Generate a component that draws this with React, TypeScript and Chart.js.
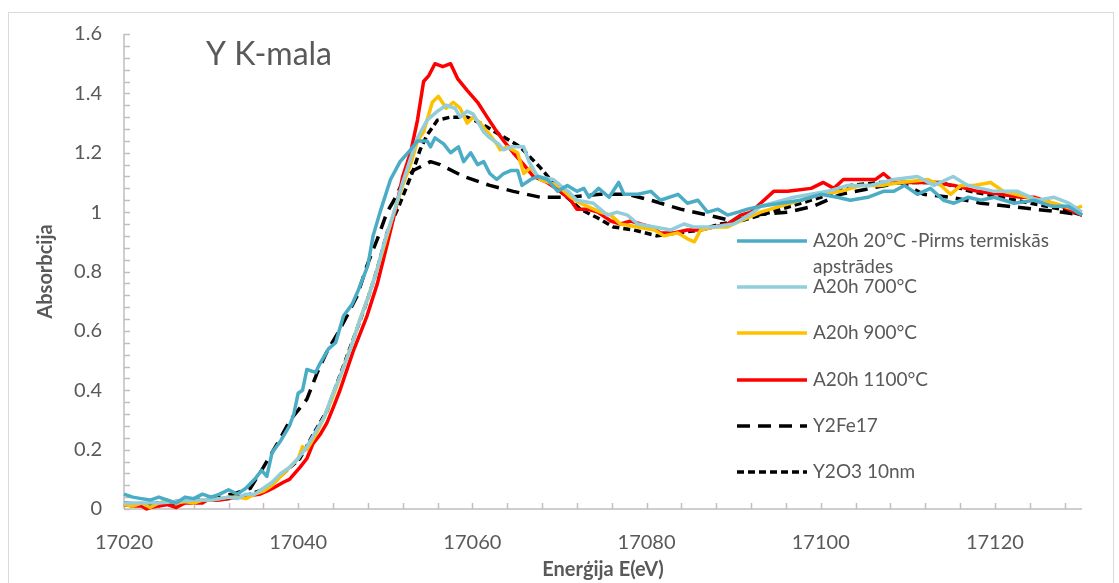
import React, { useEffect, useRef } from "react";
import { Chart, registerables } from "chart.js";

Chart.register(...registerables);

const FONT = "Lato, 'Open Sans', sans-serif";
const TEXT_COLOR = "#595959";

const chartTitle = "Y K-mala";
const xTitle = "Enerģija E(eV)";
const yTitle = "Absorbcija";

const xMin = 17020;
const xMax = 17130;
const xTickValues = [17020, 17040, 17060, 17080, 17100, 17120];
const xMinorStep = 4;
const yMin = 0;
const yMax = 1.6;
const yTickValues = [0, 0.2, 0.4, 0.6, 0.8, 1, 1.2, 1.4, 1.6];
const yTickLabels = ["0", "0.2", "0.4", "0.6", "0.8", "1", "1.2", "1.4", "1.6"];
const yMinorStep = 0.04;

const seriesLabels = [
  ["A20h 20°C -Pirms termiskās", "apstrādes"],
  ["A20h 700°C"],
  ["A20h 900°C"],
  ["A20h 1100°C"],
  ["Y2Fe17"],
  ["Y2O3 10nm"],
];
const seriesColors = ["#4BACC6", "#92CDDC", "#FFC000", "#FF0000", "#000000", "#000000"];
const seriesDashes: number[][] = [[], [], [], [], [13, 8], [7, 4]];

// A20h 20°C
const e20 = [17020, 17021, 17022, 17023, 17024, 17025, 17026, 17027, 17028, 17029, 17030, 17031, 17032, 17033, 17034, 17035, 17035.8, 17036.4, 17037, 17038, 17039, 17039.5, 17040, 17040.5, 17041, 17042, 17042.5, 17043.5, 17044.3, 17045.2, 17046.2, 17046.8, 17048, 17048.6, 17049.4, 17050.6, 17051.7, 17052.9, 17053.7, 17054.8, 17055.2, 17055.7, 17056.7, 17057.5, 17058.4, 17059, 17059.8, 17060.6, 17061.3, 17062, 17062.8, 17063.6, 17064.4, 17065.2, 17065.7, 17066.7, 17067.5, 17068.6, 17069.8, 17070.9, 17072, 17072.8, 17073.4, 17074.5, 17075.7, 17076.8, 17077.4, 17079, 17080.5, 17081.6, 17083.6, 17084.7, 17085.9, 17087, 17088.2, 17089.3, 17090.5, 17091.6, 17093.1, 17095.4, 17097.7, 17100, 17101.9, 17103.4, 17105.4, 17107.2, 17108.4, 17109.6, 17111.1, 17112.6, 17114.1, 17115.3, 17116.9, 17118.4, 17119.9, 17122.2, 17124.5, 17126.5, 17128.4, 17130];
const a20 = [0.05, 0.04, 0.035, 0.03, 0.04, 0.03, 0.02, 0.04, 0.035, 0.05, 0.04, 0.05, 0.065, 0.05, 0.07, 0.1, 0.13, 0.11, 0.19, 0.23, 0.28, 0.32, 0.39, 0.4, 0.47, 0.46, 0.49, 0.54, 0.56, 0.65, 0.69, 0.73, 0.82, 0.92, 1.0, 1.11, 1.17, 1.21, 1.24, 1.24, 1.22, 1.25, 1.23, 1.2, 1.22, 1.17, 1.2, 1.16, 1.17, 1.13, 1.11, 1.13, 1.14, 1.14, 1.09, 1.11, 1.12, 1.11, 1.07, 1.09, 1.07, 1.08, 1.05, 1.08, 1.05, 1.1, 1.06, 1.06, 1.07, 1.04, 1.06, 1.03, 1.04, 1.0, 1.01, 0.99, 1.0, 1.01, 1.02, 1.03, 1.04, 1.06, 1.05, 1.04, 1.05, 1.07, 1.07, 1.09, 1.06, 1.08, 1.04, 1.03, 1.05, 1.04, 1.05, 1.03, 1.04, 1.02, 1.02, 0.99];

// A20h 700°C
const e700 = [17020, 17022, 17024, 17026, 17028, 17030, 17032, 17033, 17034, 17035, 17036, 17037, 17038, 17039, 17040, 17041, 17042, 17043, 17044, 17045, 17046, 17047, 17048, 17049, 17050, 17051, 17052, 17053, 17053.7, 17054.8, 17056, 17057, 17058, 17058.6, 17059.4, 17060.1, 17061.3, 17062, 17063, 17063.6, 17064.5, 17065.9, 17066.5, 17067.5, 17069.3, 17070.1, 17071, 17072, 17073.9, 17075.5, 17076.6, 17077.8, 17079, 17080.9, 17082.8, 17084.3, 17085.4, 17087.7, 17090, 17092.3, 17093.1, 17096.9, 17100.8, 17103.1, 17105.7, 17108.4, 17111.1, 17113, 17115.2, 17116.9, 17119.9, 17122.6, 17124.9, 17126.8, 17128.5, 17130];
const a700 = [0.02, 0.02, 0.02, 0.025, 0.03, 0.03, 0.04, 0.035, 0.05, 0.05, 0.07, 0.09, 0.12, 0.14, 0.17, 0.21, 0.26, 0.31, 0.39, 0.46, 0.54, 0.63, 0.71, 0.8, 0.91, 1.0, 1.1, 1.19, 1.25, 1.31, 1.34, 1.36, 1.35, 1.32, 1.34, 1.33, 1.27, 1.25, 1.23, 1.21, 1.22, 1.22, 1.17, 1.12, 1.11, 1.09, 1.07, 1.04, 1.03, 0.99, 1.0, 0.99, 0.96, 0.95, 0.94, 0.96, 0.95, 0.95, 0.96, 1.0, 1.02, 1.05, 1.07, 1.09, 1.09, 1.11, 1.12, 1.09, 1.12, 1.09, 1.07, 1.07, 1.04, 1.05, 1.03, 1.0];

// A20h 900°C
const e900 = [17020, 17021, 17022, 17023, 17024, 17025, 17026, 17027, 17028, 17029, 17030, 17031, 17032, 17033, 17034, 17035, 17036, 17037, 17038, 17039, 17040, 17040.5, 17041, 17042, 17043, 17044, 17045, 17046, 17047, 17048, 17049, 17050, 17051, 17052, 17053, 17053.7, 17054.4, 17055.4, 17056.1, 17057, 17057.8, 17058.6, 17059.4, 17060.1, 17060.9, 17062, 17062.8, 17063.2, 17064, 17065.2, 17065.9, 17066.7, 17067.8, 17069.8, 17071.3, 17072.4, 17074.7, 17075.9, 17077, 17079, 17080.9, 17082, 17083.6, 17084.7, 17085.5, 17086.2, 17087.7, 17089.3, 17090.8, 17093.1, 17095.4, 17097.7, 17100, 17102.3, 17104.6, 17106.9, 17109.2, 17112.3, 17113.8, 17114.9, 17116.1, 17117.6, 17119.5, 17121, 17123.8, 17126.8, 17129, 17130];
const a900 = [0.015, 0.01, 0.02, 0.005, 0.02, 0.03, 0.02, 0.025, 0.02, 0.03, 0.03, 0.035, 0.04, 0.04, 0.035, 0.05, 0.06, 0.08, 0.11, 0.14, 0.17, 0.21, 0.2, 0.25, 0.31, 0.38, 0.46, 0.54, 0.63, 0.71, 0.8, 0.9, 1.0, 1.09, 1.17, 1.24, 1.27, 1.37, 1.39, 1.35, 1.37, 1.35, 1.3, 1.32, 1.3, 1.26, 1.23, 1.21, 1.22, 1.2, 1.13, 1.15, 1.11, 1.09, 1.05, 1.03, 1.0, 0.99, 0.96, 0.95, 0.94, 0.92, 0.93, 0.91, 0.9, 0.94, 0.95, 0.95, 0.97, 1.0, 1.02, 1.04, 1.06, 1.07, 1.09, 1.09, 1.1, 1.11, 1.09, 1.06, 1.09, 1.09, 1.1, 1.07, 1.05, 1.03, 1.01, 1.02];

// A20h 1100°C
const e1100 = [17020, 17021, 17022, 17022.6, 17023, 17024, 17025, 17026, 17027, 17028, 17029, 17029.5, 17031, 17033, 17034, 17035.6, 17036.4, 17037.1, 17038.3, 17039, 17040.2, 17041, 17041.7, 17042.5, 17043.3, 17044, 17044.8, 17046.3, 17047.9, 17049.1, 17050.2, 17051.2, 17052, 17052.9, 17053.7, 17054.4, 17055, 17055.7, 17056.6, 17057.5, 17058.3, 17059.4, 17060.6, 17061.7, 17062.6, 17063.6, 17064.7, 17065.9, 17067, 17068.6, 17070.1, 17071.3, 17072, 17073.2, 17074.4, 17075.9, 17077, 17078.2, 17079.3, 17080.5, 17081.6, 17083.1, 17084.7, 17086.2, 17087.7, 17089.3, 17090.8, 17092, 17093.1, 17094.6, 17096.2, 17098.9, 17100.3, 17101.5, 17102.6, 17104.6, 17106.3, 17107.2, 17108.4, 17110.3, 17113, 17115.3, 17118, 17120.7, 17123, 17124.5, 17127.6, 17130];
const a1100 = [0.015, 0.01, 0.01, 0.0, 0.005, 0.01, 0.015, 0.005, 0.02, 0.02, 0.02, 0.03, 0.03, 0.04, 0.045, 0.05, 0.06, 0.07, 0.09, 0.1, 0.14, 0.17, 0.22, 0.25, 0.29, 0.34, 0.4, 0.53, 0.65, 0.76, 0.89, 1.01, 1.12, 1.2, 1.31, 1.44, 1.46, 1.5, 1.49, 1.5, 1.45, 1.41, 1.37, 1.32, 1.28, 1.24, 1.2, 1.16, 1.12, 1.1, 1.07, 1.04, 1.01, 1.01, 1.0, 0.97, 0.96, 0.97, 0.96, 0.95, 0.93, 0.93, 0.94, 0.94, 0.95, 0.96, 0.99, 1.0, 1.03, 1.07, 1.07, 1.08, 1.1, 1.08, 1.11, 1.11, 1.11, 1.13, 1.1, 1.1, 1.1, 1.09, 1.07, 1.06, 1.05, 1.05, 1.02, 0.99];

// Y2Fe17
const eFe = [17020, 17022, 17024, 17026, 17028, 17030, 17032.5, 17034.5, 17036, 17037.6, 17039.1, 17041, 17042.2, 17043.3, 17044.5, 17045.6, 17046.8, 17047.9, 17049.1, 17050.2, 17051, 17052, 17053.2, 17055.2, 17056.3, 17059, 17062, 17064.7, 17067.8, 17071, 17074.7, 17077.8, 17080.5, 17083.9, 17087, 17090, 17092.3, 17096.2, 17099.2, 17102.3, 17105.7, 17109.2, 17111.8, 17114.9, 17118.4, 17121.5, 17124.5, 17127.6, 17130];
const aFe = [0.02, 0.015, 0.02, 0.025, 0.03, 0.04, 0.05, 0.07, 0.14, 0.22, 0.3, 0.37, 0.46, 0.53, 0.59, 0.65, 0.72, 0.82, 0.91, 1.0, 1.04, 1.1, 1.14, 1.17, 1.16, 1.12, 1.09, 1.07, 1.05, 1.05, 1.06, 1.06, 1.04, 1.01, 0.99, 0.97, 0.99, 1.0, 1.02, 1.06, 1.08, 1.1, 1.06, 1.05, 1.03, 1.02, 1.01, 1.0, 0.99];

// Y2O3 10nm
const eOx = [17020, 17022, 17024, 17026, 17028, 17030, 17032, 17034, 17036.4, 17038.3, 17040.2, 17041.7, 17043.3, 17044.8, 17046.3, 17047.9, 17049.1, 17050.2, 17051.7, 17053.2, 17054, 17054.8, 17056, 17057.5, 17059.4, 17060.9, 17063.2, 17065.5, 17067.8, 17070.1, 17072.4, 17074.4, 17076.2, 17078.5, 17081.2, 17083.6, 17086.2, 17088.5, 17090.8, 17093.1, 17096.6, 17100, 17103.4, 17106.9, 17110.3, 17113.8, 17117.2, 17120.7, 17124.1, 17127.6, 17130];
const aOx = [0.015, 0.015, 0.02, 0.02, 0.025, 0.03, 0.035, 0.045, 0.07, 0.12, 0.17, 0.25, 0.33, 0.45, 0.57, 0.7, 0.81, 0.93, 1.03, 1.14, 1.21, 1.26, 1.31, 1.32, 1.32, 1.3, 1.26, 1.22, 1.15, 1.07, 1.01, 0.98, 0.95, 0.94, 0.92, 0.93, 0.94, 0.96, 0.97, 0.99, 1.02, 1.05, 1.09, 1.1, 1.1, 1.1, 1.07, 1.05, 1.03, 1.01, 0.99];

const seriesE = [e20, e700, e900, e1100, eFe, eOx];
const seriesA = [a20, a700, a900, a1100, aFe, aOx];

// layout constants (pixels)
const W = 1119;
const H = 583;
const PLOT_LEFT = 124;
const PLOT_RIGHT = 1082;
const PLOT_TOP = 29;
const PLOT_BOTTOM = 509;

const decorPlugin = {
  id: "decor",
  beforeDraw(chart: any) {
    const ctx = chart.ctx;
    ctx.save();
    ctx.fillStyle = "#ffffff";
    ctx.fillRect(0, 0, chart.width, chart.height);
    ctx.strokeStyle = "#d9d9d9";
    ctx.lineWidth = 1;
    ctx.strokeRect(8.5, 12.5, 1105, 620);
    ctx.restore();
  },
  beforeDatasetsDraw(chart: any) {
    const { ctx, chartArea, scales } = chart;
    const { left, right, top, bottom } = chartArea;
    const xs = scales.x;
    const ys = scales.y;
    ctx.save();
    ctx.strokeStyle = "#bfbfbf";
    ctx.lineWidth = 1.5;
    ctx.beginPath();
    ctx.moveTo(left, top);
    ctx.lineTo(left, bottom);
    ctx.moveTo(left, bottom);
    ctx.lineTo(right, bottom);
    const nY = Math.round((yMax - yMin) / yMinorStep);
    for (let i = 0; i <= nY; i++) {
      const py = Math.round(ys.getPixelForValue(yMin + i * yMinorStep)) + 0.5;
      ctx.moveTo(left, py);
      ctx.lineTo(left + 6, py);
    }
    for (let v = xMin; v <= xMax; v += xMinorStep) {
      const px = Math.round(xs.getPixelForValue(v)) + 0.5;
      ctx.moveTo(px, bottom);
      ctx.lineTo(px, bottom - 6);
    }
    ctx.stroke();
    ctx.restore();
  },
  afterDatasetsDraw(chart: any) {
    const { ctx, chartArea } = chart;
    ctx.save();
    // chart title
    ctx.fillStyle = TEXT_COLOR;
    ctx.font = `32px ${FONT}`;
    ctx.textBaseline = "middle";
    ctx.textAlign = "left";
    ctx.fillText(chartTitle, 206, 55);

    // axis titles
    ctx.font = `bold 20px ${FONT}`;
    ctx.textAlign = "center";
    ctx.fillText(xTitle, (chartArea.left + chartArea.right) / 2, 570);
    ctx.save();
    ctx.translate(46, (chartArea.top + chartArea.bottom) / 2);
    ctx.rotate(-Math.PI / 2);
    ctx.fillText(yTitle, 0, 0);
    ctx.restore();

    // legend
    const rowY = [241, 287, 333, 380, 426, 472];
    chart.data.datasets.forEach((ds: any, i: number) => {
      const y = rowY[i];
      ctx.save();
      ctx.strokeStyle = ds.borderColor;
      ctx.lineWidth = 3.5;
      ctx.lineCap = "butt";
      ctx.setLineDash(ds.borderDash || []);
      ctx.beginPath();
      ctx.moveTo(737, y);
      ctx.lineTo(807, y);
      ctx.stroke();
      ctx.restore();
      ctx.fillStyle = TEXT_COLOR;
      ctx.font = `19px ${FONT}`;
      ctx.textAlign = "left";
      ctx.textBaseline = "middle";
      const lines: string[] = seriesLabels[i];
      lines.forEach((t, k) => ctx.fillText(t, 813, y + k * 26));
    });
    ctx.restore();
  },
};

export default function App() {
  const ref = useRef<HTMLCanvasElement | null>(null);

  useEffect(() => {
    document.body.style.margin = "0";
    const canvas = ref.current;
    if (!canvas) return;
    const datasets = seriesE.map((es, i) => ({
      label: seriesLabels[i].join(" "),
      data: es.map((e, j) => ({ x: e, y: seriesA[i][j] })),
      borderColor: seriesColors[i],
      backgroundColor: seriesColors[i],
      borderWidth: 3.5,
      borderDash: seriesDashes[i],
      borderCapStyle: "butt",
      borderJoinStyle: "round",
      pointRadius: 0,
      tension: 0,
      fill: false,
      clip: 4,
    }));
    const chart = new Chart(canvas, {
      type: "line",
      data: { datasets } as any,
      plugins: [decorPlugin as any],
      options: {
        animation: false,
        responsive: false,
        devicePixelRatio: 1,
        layout: { padding: { left: 0, top: PLOT_TOP, right: W - PLOT_RIGHT, bottom: 0 } },
        plugins: { legend: { display: false }, tooltip: { enabled: false }, title: { display: false } },
        scales: {
          x: {
            type: "linear",
            min: xMin,
            max: xMax,
            grid: { display: false, drawTicks: false },
            border: { display: false },
            afterFit: (s: any) => {
              s.height = H - PLOT_BOTTOM;
            },
            afterBuildTicks: (s: any) => {
              s.ticks = xTickValues.map((v) => ({ value: v }));
            },
            ticks: {
              autoSkip: false,
              maxRotation: 0,
              padding: 22,
              color: TEXT_COLOR,
              font: { family: FONT, size: 20 },
              callback: (v: any) => String(v),
            },
          },
          y: {
            type: "linear",
            min: yMin,
            max: yMax,
            grid: { display: false, drawTicks: false },
            border: { display: false },
            afterFit: (s: any) => {
              s.width = PLOT_LEFT;
            },
            afterBuildTicks: (s: any) => {
              s.ticks = yTickValues.map((v) => ({ value: v }));
            },
            ticks: {
              autoSkip: false,
              padding: 22,
              color: TEXT_COLOR,
              font: { family: FONT, size: 20 },
              callback: (v: any, i: number) => yTickLabels[i] ?? String(v),
            },
          },
        },
      } as any,
    });
    return () => chart.destroy();
  }, []);

  return (
    <div style={{ position: "absolute", left: 0, top: 0, width: W, height: H }}>
      <canvas ref={ref} width={W} height={H} style={{ width: W, height: H, display: "block" }} />
    </div>
  );
}
